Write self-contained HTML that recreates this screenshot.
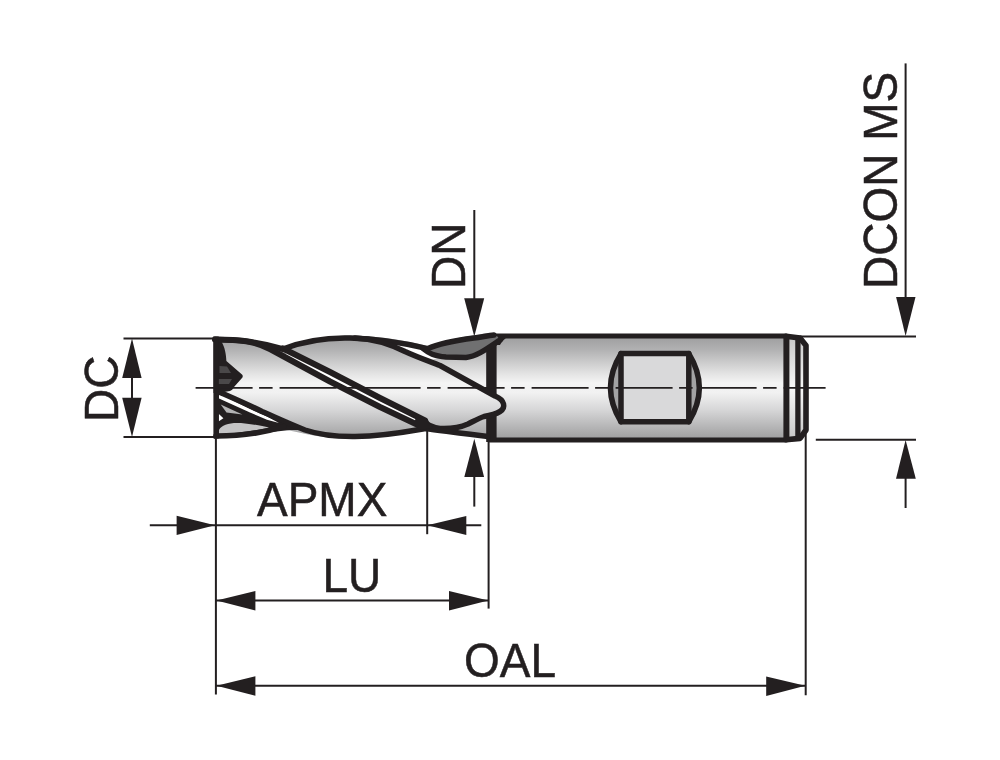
<!DOCTYPE html>
<html><head><meta charset="utf-8">
<style>
html,body{margin:0;padding:0;background:#fff;width:1000px;height:760px;overflow:hidden}
svg{display:block;will-change:transform}
text{font-family:"Liberation Sans",sans-serif;font-size:46px;fill:#231f20;stroke:#231f20;stroke-width:0.5}
</style></head>
<body>
<svg width="1000" height="760" viewBox="0 0 1000 760">
<defs>
<linearGradient id="g" gradientUnits="userSpaceOnUse" x1="0" y1="338" x2="0" y2="438">
<stop offset="0" stop-color="#a0a0a1"/>
<stop offset="0.12" stop-color="#b2b2b3"/>
<stop offset="0.36" stop-color="#e4e4e4"/>
<stop offset="0.45" stop-color="#f4f4f4"/>
<stop offset="0.55" stop-color="#f1f1f1"/>
<stop offset="0.72" stop-color="#d6d6d7"/>
<stop offset="1" stop-color="#a0a0a1"/>
</linearGradient>
<linearGradient id="gs" gradientUnits="userSpaceOnUse" x1="0" y1="338" x2="0" y2="438">
<stop offset="0" stop-color="#c8c8c8"/>
<stop offset="0.5" stop-color="#f8f8f8"/>
<stop offset="1" stop-color="#c8c8c8"/>
</linearGradient>
</defs>

<!-- ===== dimension lines ===== -->
<g stroke="#231f20" stroke-width="2" fill="none">
  <!-- DC -->
  <line x1="123.5" y1="338.5" x2="215" y2="338.5"/>
  <line x1="123.5" y1="437" x2="215" y2="437"/>
  <line x1="132" y1="370" x2="132" y2="405"/>
  <!-- DN -->
  <line x1="474.3" y1="210" x2="474.3" y2="300"/>
  <line x1="474.3" y1="475" x2="474.3" y2="506.6"/>
  <!-- DCON MS -->
  <line x1="905.6" y1="63.4" x2="905.6" y2="300"/>
  <line x1="905.6" y1="475" x2="905.6" y2="508"/>
  <line x1="800" y1="336.4" x2="916" y2="336.4"/>
  <line x1="815.8" y1="439.7" x2="916" y2="439.7"/>
  <!-- APMX / LU / OAL extension lines -->
  <line x1="215.9" y1="437" x2="215.9" y2="694.6"/>
  <line x1="427.2" y1="430" x2="427.2" y2="534.2"/>
  <line x1="488.6" y1="440" x2="488.6" y2="608.6"/>
  <line x1="805.7" y1="430.5" x2="805.7" y2="695.3"/>
  <!-- APMX dim line -->
  <line x1="149.8" y1="525.3" x2="481.3" y2="525.3"/>
  <!-- LU dim -->
  <line x1="216" y1="600.6" x2="488" y2="600.6"/>
  <!-- OAL dim -->
  <line x1="216" y1="685.8" x2="805" y2="685.8"/>
</g>
<g fill="#231f20" stroke="none">
  <!-- DC arrows -->
  <polygon points="132,338.5 122.2,378 141.6,378"/>
  <polygon points="132,437 122.2,397.8 141.6,397.8"/>
  <!-- DN arrows -->
  <polygon points="474.3,336.5 464.2,298.2 484.2,298.2"/>
  <polygon points="474.3,438.7 464.3,477 484.1,477"/>
  <!-- DCON arrows -->
  <polygon points="905.6,336 896.1,297 915.5,297"/>
  <polygon points="905.6,440 896,478.7 915.8,478.7"/>
  <!-- APMX arrows -->
  <polygon points="215,525.3 176.6,515.8 176.6,535"/>
  <polygon points="427.3,525.3 466.3,516 466.3,535"/>
  <!-- LU arrows -->
  <polygon points="216.5,600.6 255.4,591 255.4,610.6"/>
  <polygon points="488.3,600.6 449,591 449,610.6"/>
  <!-- OAL arrows -->
  <polygon points="216.5,685.8 255.4,676.2 255.4,695.8"/>
  <polygon points="805.3,685.8 766.2,676.5 766.2,695.9"/>
</g>

<!-- ===== tool ===== -->
<g id="tool">
  <!-- shank fill -->
  <rect x="490" y="336.5" width="297" height="103" fill="url(#g)"/>
  <!-- end ring light strips -->
  <rect x="788" y="337" width="8" height="102" fill="url(#gs)"/>
  <rect x="799" y="341" width="5" height="94" fill="url(#gs)"/>
  <!-- cutting part silhouette -->
  <path d="M214,337 C235,337.5 258,341.5 283,347 C310,339.5 330,335.5 350,335.5 C375,336 400,339 427.5,346 C445,340 462,337 488,333 L490,442 L486,437.5 C465,435 445,432 425,430 C400,434 375,438 350,439 C325,438.5 305,434 282,429 C262,434 240,437 214,438.5 Z" fill="url(#g)"/>

  <g stroke="#231f20" fill="none" stroke-linejoin="round" stroke-linecap="round">
    <!-- shank outline -->
    <line x1="493" y1="336" x2="786" y2="336" stroke-width="5.2"/>
    <line x1="490" y1="440" x2="786" y2="440" stroke-width="5"/>
    <path d="M786,336.2 L800,338 L806,345.5 L806,430 L800,438.4 L786,439.8" stroke-width="5.6"/>
    <line x1="786.4" y1="337" x2="786.4" y2="439" stroke-width="6"/>
    <line x1="797.9" y1="338" x2="797.9" y2="438" stroke-width="5.3"/>
    <!-- weldon flat -->
    <path d="M621,353.6 Q600,387.6 621,421.7" fill="#a3a3a4" stroke-width="5.5"/>
    <path d="M688.8,353.6 Q709.8,387.6 688.8,421.7" fill="#a3a3a4" stroke-width="5.5"/>
    <rect x="621" y="353.6" width="67.8" height="68.1" fill="#d9d9da" stroke-width="5.5"/>
  </g>

  <!-- shank start bar -->
  <rect x="486.2" y="335" width="10.4" height="107" fill="#231f20"/>
  <path d="M495,336 L507,337 C505,339 502,341 500,345 L495,345 Z" fill="#231f20"/>
  <!-- nose interior over bar -->
  <path d="M484,393 L495,396 C505,401 506,408 500,411.5 C495,414.5 490,415.5 484,416 Z" fill="url(#g)"/>

  <!-- front dark chip region -->
  <path d="M214,390 L219,391 L300,427 L305,430 L290,430 L214,438.5 Z" fill="#231f20"/>
  <!-- white sliver -->
  <path d="M219,393.5 L250,409 L267,416.5 L279,423 L267,419.8 L250,412.5 L219,398.5 Z" fill="#fff"/>
  <!-- gray wedge -->
  <path d="M220.7,404.5 L242.4,414.5 L226.5,412.5 Z" fill="#b4b4b5"/>
  <!-- white triangle -->
  <path d="M218.9,414 L223.4,418.3 L218.9,421.2 Z" fill="#fff"/>
  <!-- gray lens -->
  <path d="M219,430 C222,424 232,422 245,423.5 C255,424.5 263,426 269,427.5 C258,430 240,433 219,434.5 Z" fill="#c4c4c5"/>

  <!-- front notch -->
  <path d="M213.5,336.5 L221,341 C225,347 226,354 226.4,361 L242,374.5 C243,375.5 243,377 242,378 L234,387 C233,389 232,390 230,391 L218,393 L213.5,393 Z" fill="#231f20"/>
  <path d="M219.5,366 L227,366.5 L231,373 L219.5,373 Z" fill="#4a4849"/>
  <path d="M218.5,379 L232,379 L229,384 L218.5,384 Z" fill="#4a4849"/>

  <!-- lobe 3 sliver -->
  <path d="M428,349 C438,344 455,340.5 474,338 C482,337 490,336 497,336 L500,340 C488,348 477,356.5 466,357.5 L446,357 C434,356 429,353.5 428,349 Z" fill="#707071"/>

  <!-- white gap between A and B -->
  <path d="M286,350 L330,372 L380,398 L425,420.5 L418,425 L380,407 L330,381.5 L286,357 Z" fill="#fff"/>
  <path d="M395,341 L427.5,348.7 L432,354 L438,358 L427.5,361 L395,346 Z" fill="#fff"/>
  <!-- flute strokes -->
  <g stroke="#231f20" fill="none" stroke-linejoin="round" stroke-linecap="round" stroke-width="5.5">
    <!-- top edge lobe1 -> line B -->
    <path d="M215,339.5 C240,339.5 262,342.5 283,349"/>
    <path d="M215,339.5 C240,339.5 255,341 270,349 L330,381.5 L380,407 L418,425" stroke-width="6"/>
    <!-- line A -->
    <path d="M283,348.5 L330,372 L380,398 L425,420.5" stroke-width="6"/>
    <!-- lobe 2 top edge -->
    <path d="M283,349 C305,340.5 330,337.5 350,338 C375,338.5 400,342 427.5,348.7"/>
    <!-- D2 diagonal + nose + S-curve -->
    <path d="M355,338 C378,339 394,346 405,351.5 C418,357.5 430,361.5 440,365.5 L495,396 C505,400 506,408 500,411.5 C495,414.5 490,415.5 484,416.5 C478,418.5 474,421 468,424 C460,427.5 450,429 440,428.5 C432,427.5 426,424 420,420"/>
    <!-- lobe 3 outer -->
    <path d="M427.5,348.7 C438,344 455,340.5 474,338 C482,337 488,335.5 494,335"/>
    <!-- sliver lower contour -->
    <path d="M423,348.5 C429,353.5 434,356 446,357 L466,357.5 C477,356.5 488,348 500,340"/>
    <!-- line C + bottom contour -->
    <path d="M218,391.5 C235,399 250,405.5 262,411.5 C278,418.5 292,425 305,430 C320,435 338,436.8 355,436.6 C385,436 405,432 425,428.5 C445,431 465,434 488,436.5"/>
    <!-- lobe 1 bottom contour -->
    <path d="M216,436 C238,436 262,433.5 284,426.5"/>
  </g>
  
  <!-- convergence blob -->
  <path d="M416,417 L428,420 L433,428 L420,430 L414,424 Z" fill="#231f20"/>
  <!-- front face -->
  <rect x="213.4" y="336.5" width="5.3" height="102" fill="#231f20"/>
</g>

<!-- centerline -->
<line x1="195.6" y1="387.8" x2="825.6" y2="387.8" stroke="#231f20" stroke-width="1.8" stroke-dasharray="57 6.5 13.5 7"/>

<!-- ===== labels ===== -->
<text x="0" y="0" transform="translate(118,422) rotate(-90) scale(1,1.035)">DC</text>
<text x="0" y="0" transform="translate(465,289) rotate(-90) scale(1,1.03)">DN</text>
<text x="0" y="0" transform="translate(897,289) rotate(-90) scale(1,1.035)">DCON MS</text>
<text x="0" y="0" transform="translate(257,515.7) scale(1,1.035)">APMX</text>
<text x="0" y="0" transform="translate(322.5,591.9) scale(1,1.035)">LU</text>
<text x="0" y="0" transform="translate(464,677) scale(1,1.035)">OAL</text>
</svg>
</body></html>
